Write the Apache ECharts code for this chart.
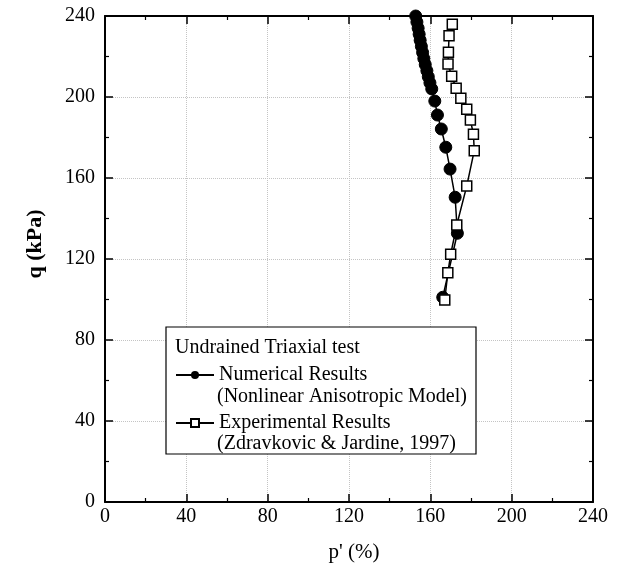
<!DOCTYPE html>
<html>
<head>
<meta charset="utf-8">
<script src="https://cdn.jsdelivr.net/npm/echarts@6/dist/echarts.min.js"></script>
<style>html,body{margin:0;padding:0;background:#fff}#c{width:620px;height:576px}</style>
</head>
<body>
<div id="c"></div>
<script>
// ---- data ----
var xTicks = [0, 40, 80, 120, 160, 200, 240];
var yTicks = [0, 40, 80, 120, 160, 200, 240];
var numP = [166.1, 173.3, 172.2, 169.7, 167.6, 165.4, 163.5, 162.2, 160.7, 159.8, 159.0, 158.3, 157.5, 156.8, 156.2, 155.6, 155.0, 154.5, 154.0, 153.4, 152.8];
var numQ = [101.1, 132.7, 150.5, 164.4, 175.2, 184.2, 191.1, 198.0, 204.0, 207, 210, 213, 216, 219, 222, 225, 228, 231, 234, 237, 240];
var expP = [167.1, 168.6, 170.0, 173.0, 177.9, 181.6, 181.2, 179.7, 177.9, 175.0, 172.7, 170.5, 168.7, 168.9, 169.2, 170.8];
var expQ = [99.8, 113.2, 122.3, 136.8, 156.0, 173.5, 181.6, 188.6, 194.0, 199.4, 204.3, 210.2, 216.3, 222.1, 230.3, 235.9];
var seriesNames = ['Numerical Results', 'Experimental Results'];
var seriesNotes = ['(Nonlinear Anisotropic Model)', '(Zdravkovic & Jardine, 1997)'];
var legendTitle = 'Undrained Triaxial test';
var xTitle = "p' (%)";
var yTitle = 'q (kPa)';

function pairs(xs, ys) { return xs.map(function (x, i) { return [x, ys[i]]; }); }

var FONT = '"Liberation Serif", "Times New Roman", serif';
var chart = echarts.init(document.getElementById('c'));

function mkAxis(pos, showLabel, isX) {
  return {
    type: 'value', position: pos, min: xTicks[0], max: xTicks[xTicks.length - 1], interval: 40,
    axisLine: { show: true, onZero: false, lineStyle: { color: '#000', width: 2 } },
    axisTick: { show: true, inside: true, length: 8, lineStyle: { color: '#000', width: 1.5 } },
    minorTick: { show: true, splitNumber: 2, length: 4, lineStyle: { color: '#000', width: 1.2 } },
    axisLabel: { show: showLabel, color: '#000', fontFamily: FONT, fontSize: 20, margin: isX ? 5 : 10 },
    splitLine: { show: showLabel, lineStyle: { color: '#c4c4c4', type: 'dotted', width: 1 } }
  };
}

chart.setOption({
  animation: false,
  backgroundColor: '#fff',
  grid: { left: 105, right: 27, top: 16, bottom: 74 },
  xAxis: [mkAxis('bottom', true, true), mkAxis('top', false, true)],
  yAxis: [mkAxis('left', true, false), mkAxis('right', false, false)],
  legend: {
    orient: 'vertical', left: 175, top: 363, padding: 0,
    itemWidth: 38, itemHeight: 10, itemGap: 24,
    textStyle: { fontFamily: FONT, fontSize: 20, color: '#000', lineHeight: 24 },
    data: seriesNames
  },
  series: [
    {
      name: seriesNames[0], type: 'line', data: pairs(numP, numQ),
      symbol: 'circle', symbolSize: 12, showSymbol: true,
      itemStyle: { color: '#000', borderColor: '#000' },
      lineStyle: { color: '#000', width: 1.5 }, z: 2
    },
    {
      name: seriesNames[1], type: 'line', data: pairs(expP, expQ),
      symbol: 'rect', symbolSize: 10, showSymbol: true,
      itemStyle: { color: '#fff', borderColor: '#000', borderWidth: 1.5 },
      lineStyle: { color: '#000', width: 1.5 }, z: 3
    }
  ],
  graphic: [
    { type: 'rect', z: 1, shape: { x: 166, y: 327, width: 310, height: 127 },
      style: { fill: '#fff', stroke: '#000', lineWidth: 1.2 } },
    { type: 'text', z: 2, x: 175, y: 348,
      style: { text: legendTitle, font: '20px ' + FONT, fill: '#000', verticalAlign: 'middle' } },
    { type: 'text', z: 2, x: 217, y: 397,
      style: { text: seriesNotes[0], font: '20px ' + FONT, fill: '#000', verticalAlign: 'middle' } },
    { type: 'text', z: 2, x: 217, y: 444,
      style: { text: seriesNotes[1], font: '20px ' + FONT, fill: '#000', verticalAlign: 'middle' } },
    { type: 'text', x: 354, y: 552,
      style: { text: xTitle, font: '21px ' + FONT, fill: '#000', align: 'center', verticalAlign: 'middle' } },
    { type: 'text', x: 35, y: 244, rotation: Math.PI / 2,
      style: { text: yTitle, font: 'bold 22px ' + FONT, fill: '#000', align: 'center', verticalAlign: 'middle' } }
  ]
});
</script>
</body>
</html>
